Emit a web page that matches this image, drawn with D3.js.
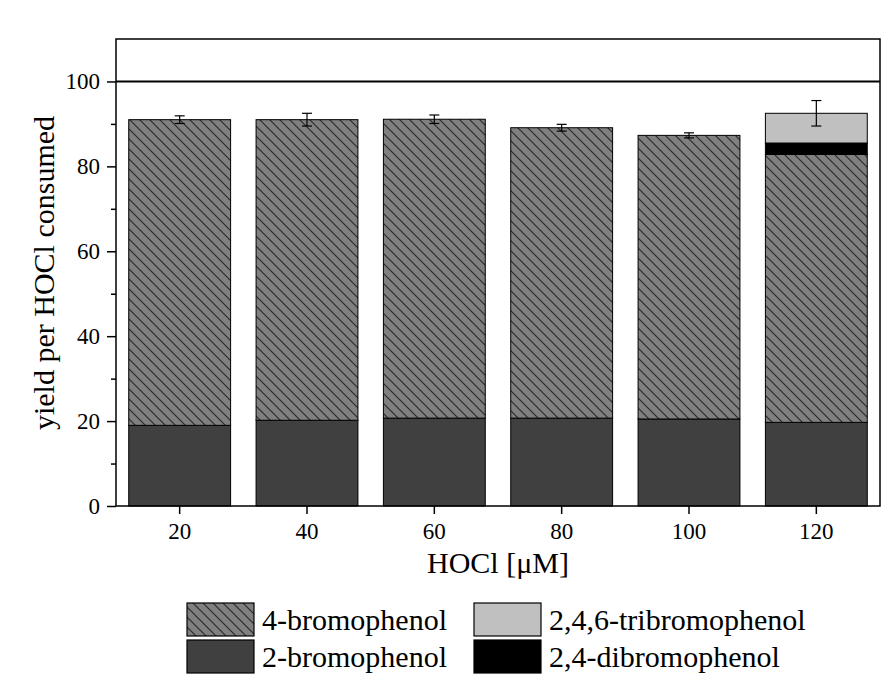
<!DOCTYPE html>
<html><head><meta charset="utf-8">
<script src="https://cdn.jsdelivr.net/npm/d3@7"></script>
<style>body{margin:0;background:#fff}svg{display:block}text{font-family:"Liberation Serif","Times New Roman",serif;fill:#000}</style>
</head><body><svg id="c" width="894" height="680"></svg>
<script>
const categories = ["20","40","60","80","100","120"];
const bromo2 = [19.0, 20.2, 20.7, 20.7, 20.5, 19.7];
const bromo4 = [72.0, 70.8, 70.4, 68.4, 66.8, 63.1];
const dibromo = [0, 0, 0, 0, 0, 2.7];
const tribromo = [0, 0, 0, 0, 0, 7.0];
const errors = [0.9, 1.5, 1.0, 0.8, 0.6, 3.0];
const yTicks = [0, 20, 40, 60, 80, 100];
const yMinorTicks = [10, 30, 50, 70, 90];
const seriesNames = ["2-bromophenol", "4-bromophenol", "2,4-dibromophenol", "2,4,6-tribromophenol"];

const svg = d3.select("#c");
const m = {l:116, r:880, t:39, b:506};
const x = d3.scaleBand().domain(categories).range([m.l, m.r]).paddingInner(0.2).paddingOuter(0.1);
const y = d3.scaleLinear().domain([0, 110]).range([m.b, m.t]);

const defs = svg.append("defs");
const pat = defs.append("pattern").attr("id","hatch").attr("patternUnits","userSpaceOnUse")
  .attr("width",10).attr("height",10);
pat.append("rect").attr("width",10).attr("height",10).attr("fill","#808080");
pat.append("path").attr("d","M-1,-1 L11,11 M-6,4 L6,16 M4,-6 L16,6").attr("stroke","#2a2a2a").attr("stroke-width",1.2);

const fills = {"2-bromophenol":"#404040","4-bromophenol":"url(#hatch)","2,4-dibromophenol":"#000000","2,4,6-tribromophenol":"#c0c0c0"};
const rows = categories.map((c,i)=>({cat:c, "2-bromophenol":bromo2[i], "4-bromophenol":bromo4[i], "2,4-dibromophenol":dibromo[i], "2,4,6-tribromophenol":tribromo[i]}));
const stack = d3.stack().keys(seriesNames)(rows);

stack.forEach(s=>{
  svg.append("g").selectAll("rect").data(s.filter(d=>d[1]-d[0]>0)).join("rect")
    .attr("x", d=>x(d.data.cat)).attr("width", x.bandwidth())
    .attr("y", d=>y(d[1])).attr("height", d=>y(d[0])-y(d[1]))
    .attr("fill", fills[s.key]).attr("stroke","#000").attr("stroke-width",1);
});

// error bars
const totals = categories.map((c,i)=>bromo2[i]+bromo4[i]+dibromo[i]+tribromo[i]);
const eg = svg.append("g").attr("stroke","#000").attr("stroke-width",1.2);
categories.forEach((c,i)=>{
  const cx = x(c)+x.bandwidth()/2;
  eg.append("line").attr("x1",cx).attr("x2",cx).attr("y1",y(totals[i]-errors[i])).attr("y2",y(totals[i]+errors[i]));
  [totals[i]-errors[i], totals[i]+errors[i]].forEach(v=>eg.append("line").attr("x1",cx-5).attr("x2",cx+5).attr("y1",y(v)).attr("y2",y(v)));
});

// 100 line
svg.append("line").attr("x1",m.l).attr("x2",m.r).attr("y1",y(100)).attr("y2",y(100)).attr("stroke","#000").attr("stroke-width",2);

// frame
svg.append("rect").attr("x",m.l).attr("y",m.t).attr("width",m.r-m.l).attr("height",m.b-m.t).attr("fill","none").attr("stroke","#000").attr("stroke-width",1.5);

// y axis
const ya = svg.append("g").attr("transform",`translate(${m.l},0)`)
  .call(d3.axisLeft(y).tickValues(yTicks).tickSize(9).tickPadding(7));
ya.select(".domain").remove();
ya.selectAll("line").attr("stroke-width",1.5);
ya.selectAll("text").attr("font-size",23).attr("font-family","Liberation Serif");
svg.append("g").attr("transform",`translate(${m.l},0)`)
  .call(d3.axisLeft(y).tickValues(yMinorTicks).tickSize(5).tickFormat(""))
  .call(g=>{g.select(".domain").remove(); g.selectAll("line").attr("stroke-width",1.5);});

// x axis
const xa = svg.append("g").attr("transform",`translate(0,${m.b})`)
  .call(d3.axisBottom(x).tickSize(8).tickPadding(9));
xa.select(".domain").remove();
xa.selectAll("line").attr("stroke-width",1.5);
xa.selectAll("text").attr("font-size",23).attr("font-family","Liberation Serif");

// titles
svg.append("text").attr("x",498).attr("y",573).attr("text-anchor","middle").attr("font-size",30).text("HOCl [μM]");
svg.append("text").attr("transform",`translate(54,273) rotate(-90)`).attr("text-anchor","middle").attr("font-size",30).text("yield per HOCl consumed");

// legend
const legend = [
  {name:"4-bromophenol", bx:187, by:603},
  {name:"2-bromophenol", bx:187, by:640},
  {name:"2,4,6-tribromophenol", bx:474, by:603},
  {name:"2,4-dibromophenol", bx:474, by:640}
];
legend.forEach(d=>{
  svg.append("rect").attr("x",d.bx).attr("y",d.by).attr("width",67).attr("height",33)
    .attr("fill",fills[d.name]).attr("stroke","#000").attr("stroke-width",1.2);
  svg.append("text").attr("x",d.bx+75).attr("y",d.by+27).attr("font-size",30).text(d.name);
});
</script></body></html>
